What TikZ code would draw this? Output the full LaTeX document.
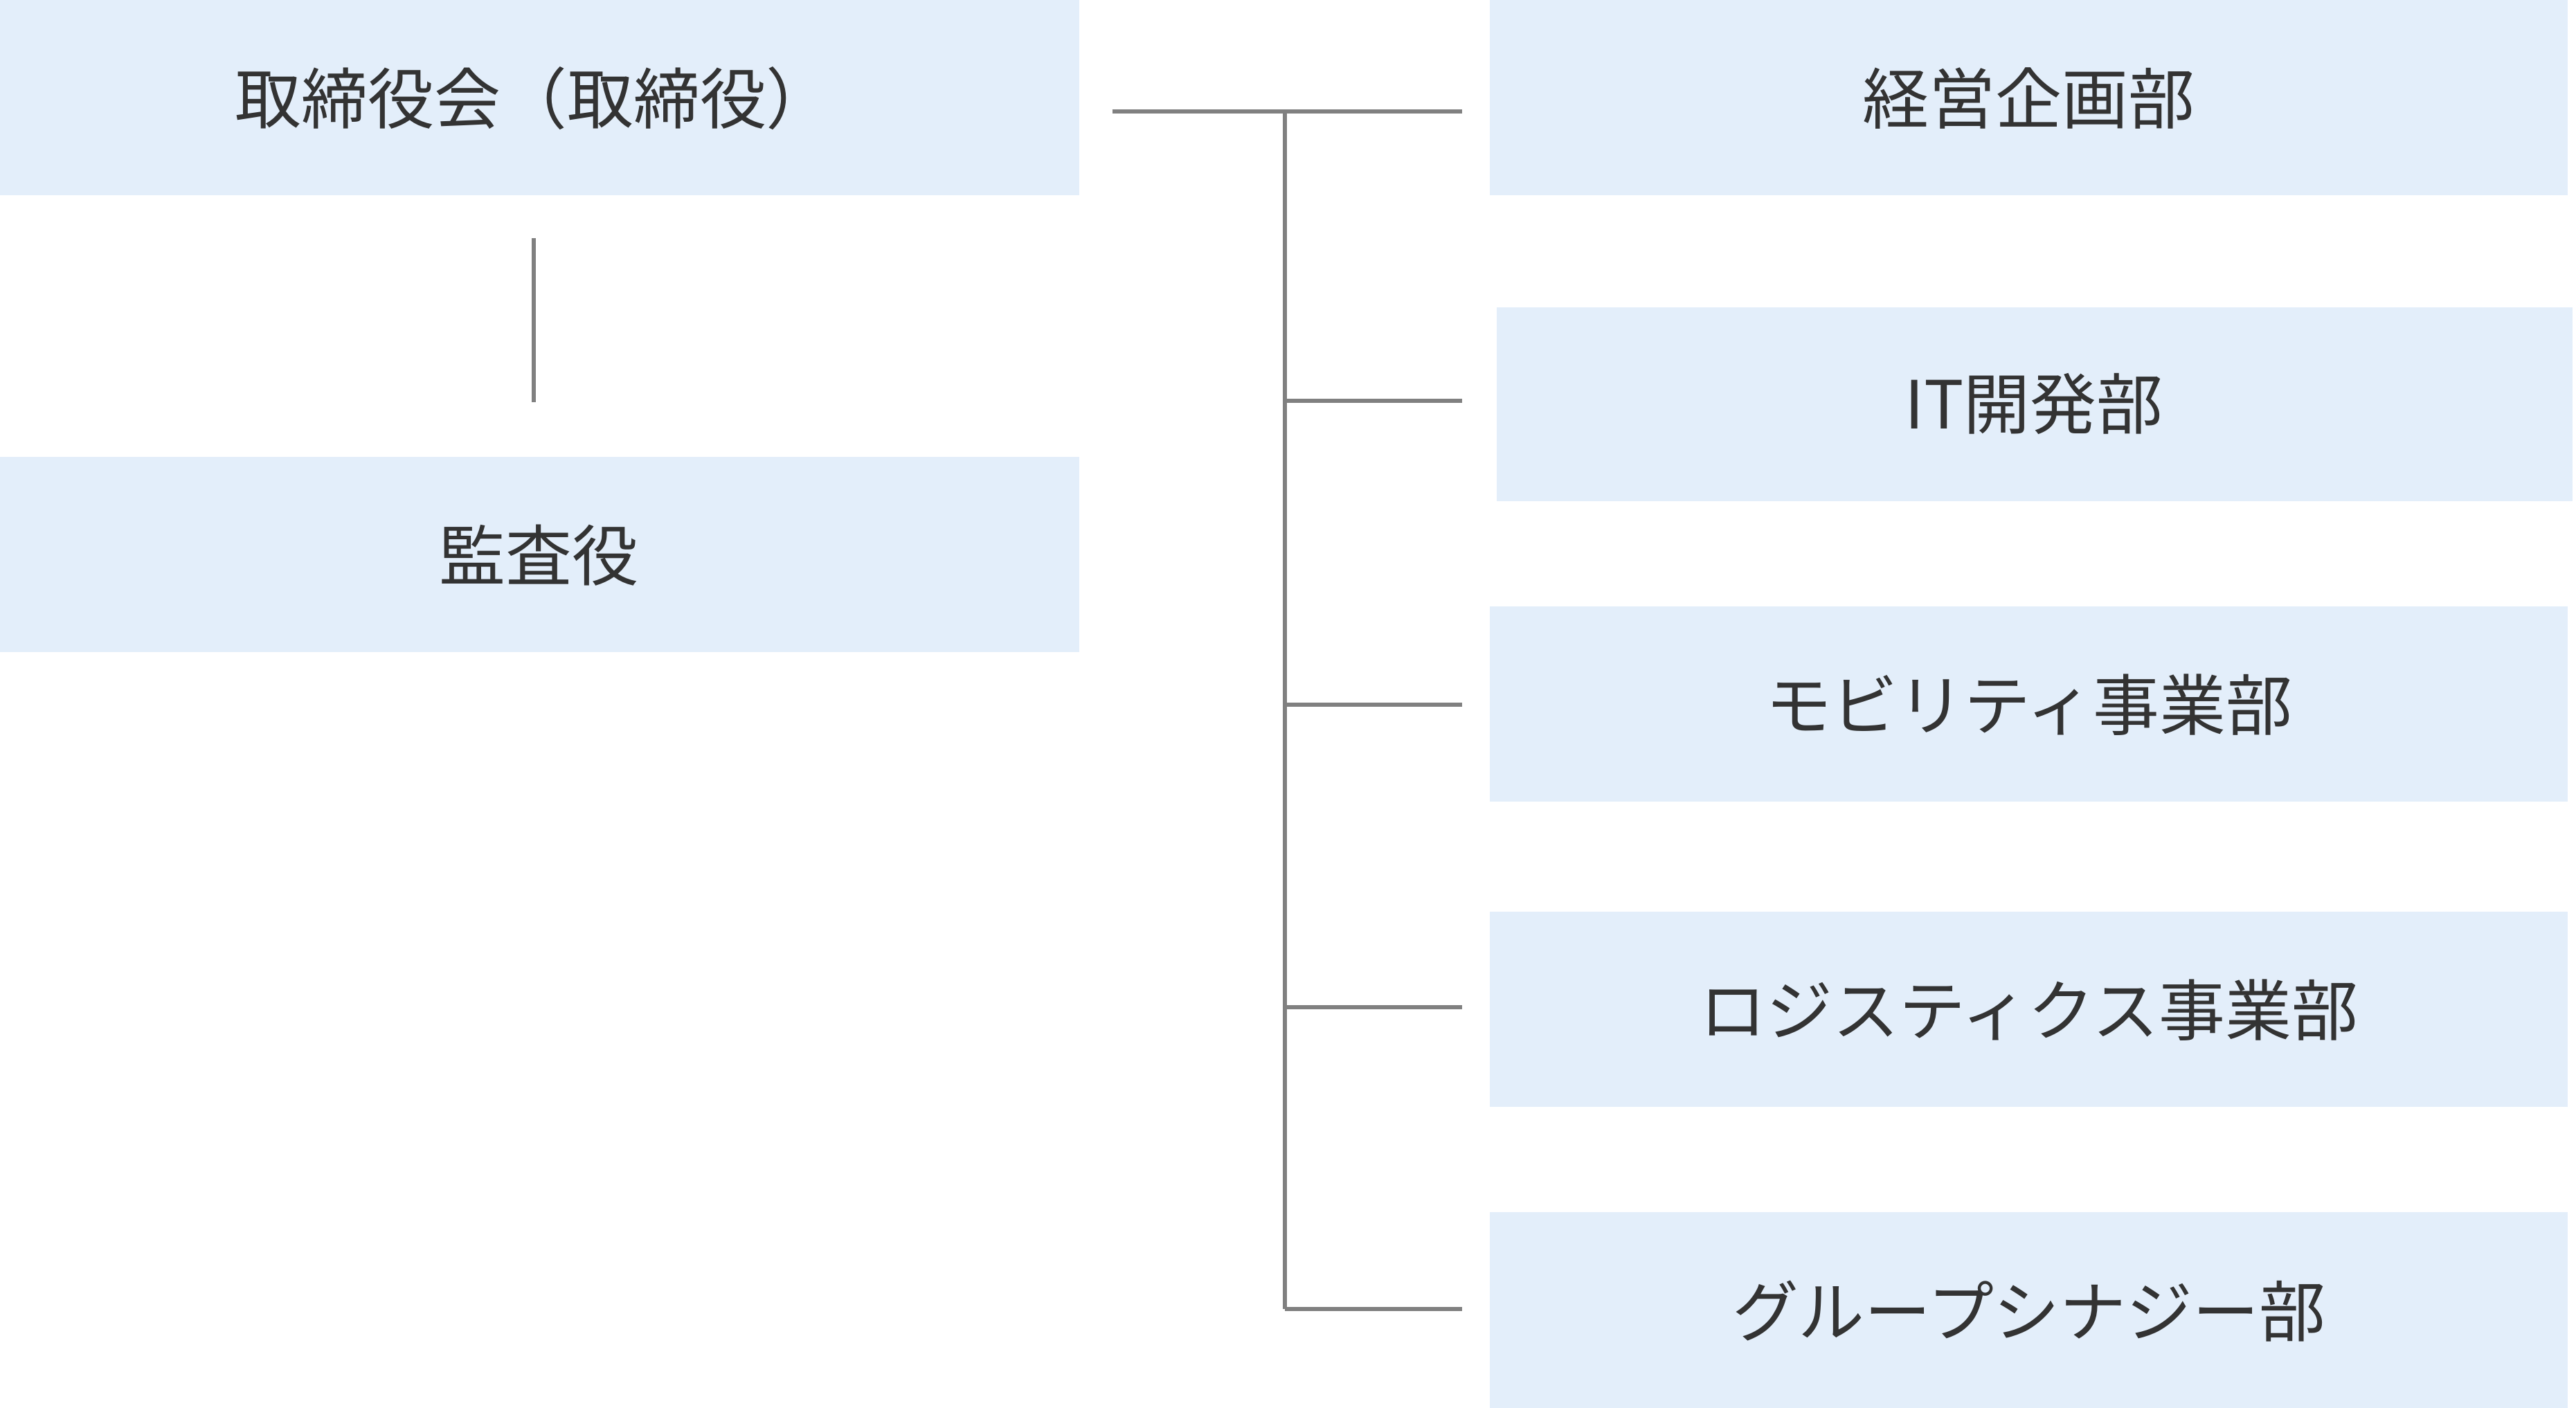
\documentclass[tikz,border=0pt]{standalone}
\usepackage{fontspec}
\setmainfont{Noto Sans CJK JP}
\definecolor{boxfill}{HTML}{E3EEFA}
\definecolor{linegray}{HTML}{808080}
\definecolor{txt}{HTML}{333333}
\begin{document}
\begin{tikzpicture}[x=0.1mm,y=-0.1mm,
  box/.style={fill=boxfill,draw=none,inner sep=0pt},
  lbl/.style={font=\fontsize{11.5}{13}\selectfont,text=txt},
  conn/.style={draw=linegray,line width=0.7pt}]
\useasboundingbox (0,0) rectangle (1568,857);
\fill[boxfill] (0,0) rectangle (657,119);
\node[lbl] (board) at (325,60) {取締役会（取締役）};
\fill[boxfill] (0,278) rectangle (657,397);
\node[lbl] (audit) at (328,338) {監査役};
\coordinate (v1) at (325,145); \coordinate (v2) at (325,245);
\draw[conn] (v1) -- (v2);
\fill[boxfill] (907,0) rectangle (1563,119);
\node[lbl] (d1) at (1235,60) {経営企画部};
\fill[boxfill] (911,187) rectangle (1566,305);
\node[lbl] (d2) at (1238,246) {IT開発部};
\fill[boxfill] (907,369) rectangle (1563,488);
\node[lbl] (d3) at (1235,429) {モビリティ事業部};
\fill[boxfill] (907,555) rectangle (1563,674);
\node[lbl] (d4) at (1235,615) {ロジスティクス事業部};
\fill[boxfill] (907,738) rectangle (1563,857);
\node[lbl] (d5) at (1235,798) {グループシナジー部};
\coordinate (s) at (677,68); \coordinate (t) at (782,68);
\coordinate (e1) at (890,68);
\coordinate (b2) at (782,244); \coordinate (e2) at (890,244);
\coordinate (b3) at (782,429); \coordinate (e3) at (890,429);
\coordinate (b4) at (782,613); \coordinate (e4) at (890,613);
\coordinate (b5) at (782,797); \coordinate (e5) at (890,797);
\draw[conn] (s) -- (e1);
\draw[conn] (t) -- (b5);
\draw[conn] (b2) -- (e2);
\draw[conn] (b3) -- (e3);
\draw[conn] (b4) -- (e4);
\draw[conn] (b5) -- (e5);
\end{tikzpicture}
\end{document}
